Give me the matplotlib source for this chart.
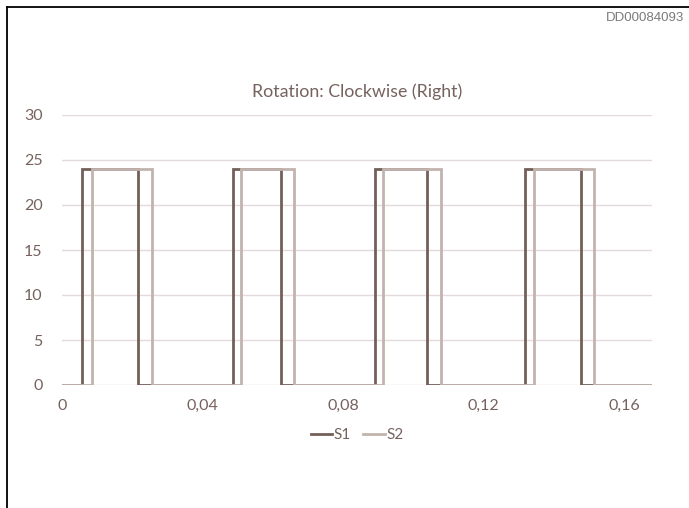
import matplotlib
matplotlib.use("Agg")
import matplotlib.pyplot as plt
from matplotlib.lines import Line2D

# Sensor signal edges (seconds) and output level (V)
s1_rise = [0.0056, 0.0486, 0.0891, 0.1318]
s1_fall = [0.0217, 0.0623, 0.1039, 0.1477]
s2_rise = [0.0085, 0.0509, 0.0915, 0.1345]
s2_fall = [0.0256, 0.0660, 0.1080, 0.1515]
level = 24
t_end = 0.168

x_ticks = [0, 0.04, 0.08, 0.12, 0.16]
x_tick_labels = ["0", "0,04", "0,08", "0,12", "0,16"]
y_ticks = [0, 5, 10, 15, 20, 25, 30]

c_s1 = "#735f5a"
c_s2 = "#c2b3ae"
c_text = "#76625d"
c_grid = "#e3dadb"


def square_wave(rises, falls):
    xs, ys = [0.0], [0]
    for r, f in zip(rises, falls):
        xs += [r, r, f, f]
        ys += [0, level, level, 0]
    xs.append(t_end)
    ys.append(0)
    return xs, ys


plt.rcParams["font.family"] = ["Lato", "DejaVu Sans"]

fig = plt.figure(figsize=(6.89, 5.08), dpi=100)

# outer frame (top and left edges)
fig.add_artist(Line2D([6.5 / 689, 6.5 / 689], [0, 1 - 6.5 / 508], color="black", lw=1.3))
fig.add_artist(Line2D([6.5 / 689, 1], [1 - 6.5 / 508, 1 - 6.5 / 508], color="black", lw=1.3))

fig.text(684 / 689, 1 - 18 / 508, "DD00084093", ha="right", va="center",
         fontsize=9.5, color="#7a7a7a", family="Liberation Sans")

ax = fig.add_axes([62 / 689, 1 - 385 / 508, 590 / 689, 270 / 508])

x1, y1 = square_wave(s1_rise, s1_fall)
x2, y2 = square_wave(s2_rise, s2_fall)
ax.plot(x1, y1, color=c_s1, lw=2.0, label="S1", solid_joinstyle="miter", zorder=3)
ax.plot(x2, y2, color=c_s2, lw=2.0, label="S2", solid_joinstyle="miter", zorder=4)

ax.set_xlim(0, t_end)
ax.set_ylim(0, 30)
ax.set_xticks(x_ticks)
ax.set_xticklabels(x_tick_labels)
ax.set_yticks(y_ticks)
ax.grid(axis="y", color=c_grid, lw=1.0)
ax.set_axisbelow(True)
for s in ax.spines.values():
    s.set_visible(False)
ax.tick_params(length=0, colors=c_text, labelsize=11.5)
ax.tick_params(axis="y", pad=14)
ax.tick_params(axis="x", pad=10)

ax.set_title("Rotation: Clockwise (Right)", color=c_text, fontsize=12.8, pad=13)

leg = ax.legend(loc="upper center", bbox_to_anchor=(0.5, -0.108), ncol=2, frameon=False,
                fontsize=11, handlelength=1.4, handletextpad=0.1, columnspacing=0.8)
for t in leg.get_texts():
    t.set_color(c_text)

fig.savefig("out.png", dpi=100)
